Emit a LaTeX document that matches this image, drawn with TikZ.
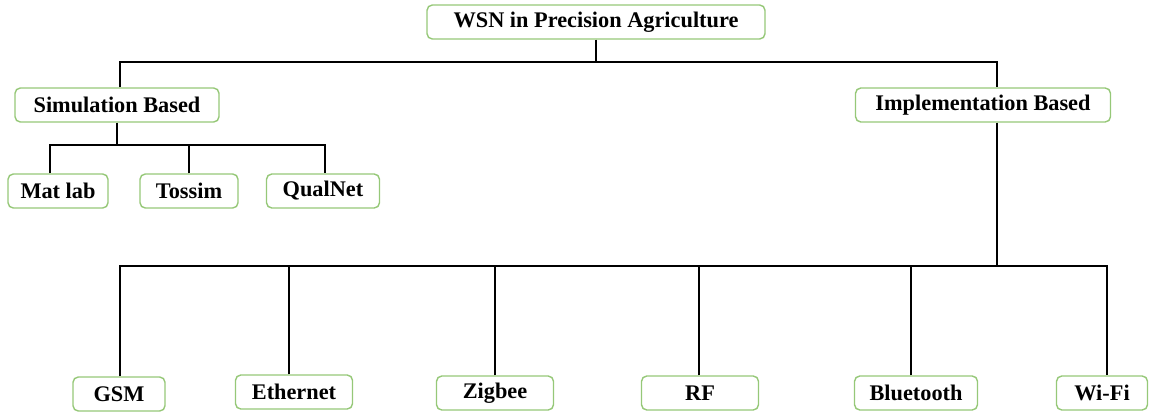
\documentclass[tikz,border=0pt]{standalone}
\usepackage{fontspec}
\setmainfont{Liberation Serif}
\usepackage{tikz}
\definecolor{boxgreen}{RGB}{150,200,120}
\tikzset{
  blok/.style={draw=boxgreen,line width=0.8pt,rounded corners=3pt,fill=white,
    minimum height=0.68cm,inner sep=1pt,
    font=\fontsize{12.7}{15}\selectfont\bfseries},
  svyaz/.style={line width=1.1pt,black}
}

\begin{document}
\begin{tikzpicture}[x=0.02cm,y=-0.02cm]
\useasboundingbox (0,0) rectangle (1151,412);
%Уровни шин
\coordinate (busA) at (0,62);
\coordinate (busB) at (0,145);
\coordinate (busC) at (0,266);
%Блоки
\node[blok,minimum width=6.76cm] (wsn) at (596,22) {WSN in Precision Agriculture};
\node[blok,minimum width=4.08cm] (sim) at (117,105) {Simulation Based};
\node[blok,minimum width=5.1cm] (impl) at (983,105) {Implementation Based};
\node[blok,minimum width=2.0cm] (matlab) at (58,191) {Mat lab};
\node[blok,minimum width=1.96cm] (tossim) at (189,191) {Tossim};
\node[blok,minimum width=2.26cm] (qualnet) at (323,191) {QualNet};
\node[blok,minimum width=1.84cm] (gsm) at (119,394) {GSM};
\node[blok,minimum width=2.34cm] (eth) at (294,392) {Ethernet};
\node[blok,minimum width=2.34cm] (zig) at (495,393) {Zigbee};
\node[blok,minimum width=2.34cm] (rf) at (700,393) {RF};
\node[blok,minimum width=2.46cm] (bt) at (916,393) {Bluetooth};
\node[blok,minimum width=1.82cm] (wifi) at (1102,393) {Wi-Fi};
%Верхний уровень
\draw[svyaz] (wsn.south) -- (wsn.south |- busA);
\draw[svyaz] ([xshift=1.7pt]sim.north) |- ([xshift=7.9pt]impl.north |- busA) -- ([xshift=7.9pt]impl.north);
%Моделирование
\draw[svyaz] (sim.south) -- (sim.south |- busB);
\draw[svyaz] ([xshift=-4.5pt]matlab.north) |- ([xshift=1.1pt]qualnet.north |- busB) -- ([xshift=1.1pt]qualnet.north);
\draw[svyaz] (tossim.north) -- (tossim.north |- busB);
%Реализация
\draw[svyaz] ([xshift=7.9pt]impl.south) -- ([xshift=7.9pt]impl.south |- busC);
\draw[svyaz] ([xshift=0.6pt]gsm.north) |- ([xshift=2.8pt]wifi.north |- busC) -- ([xshift=2.8pt]wifi.north);
\foreach \n/\dx in {eth/-2.8pt,zig/0pt,rf/-0.6pt,bt/-2.8pt}
  \draw[svyaz] ([xshift=\dx]\n.north) -- ([xshift=\dx]\n.north |- busC);
\end{tikzpicture}
\end{document}
